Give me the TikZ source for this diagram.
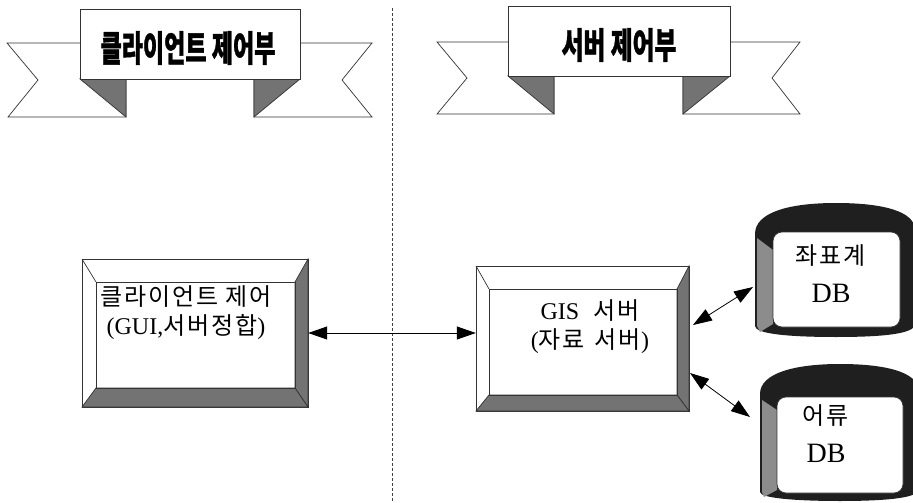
\documentclass[tikz,border=0pt]{standalone}
\usepackage{graphicx}
\usepackage{fontspec}
\setmainfont{Liberation Serif}
\newfontfamily\kr{Noto Sans CJK KR}[BoldFeatures={FakeBold=1.2}]
\newfontfamily\krs{Noto Sans CJK KR}[LetterSpace=8]
\usetikzlibrary{arrows.meta,fit}
\tikzset{
  edge/.style={draw=black!80, line width=0.7pt},
  shade1/.style={fill=black!55},
  ttl/.style={font=\kr\bfseries\fontsize{36}{38}\selectfont, inner sep=0pt},
  body/.style={font=\fontsize{24}{29}\selectfont, align=center, inner sep=0pt},
  dbtxt/.style={font=\fontsize{24}{38}\selectfont, align=center, inner sep=0pt},
  conn/.style={{Triangle[length=19pt,width=13pt]}-{Triangle[length=19pt,width=13pt]}, line width=0.8pt, black},
  bannerbox/.style={edge, fill=white, inner sep=0pt},
  rim/.style={fill=black!88},
}
\begin{document}
\begin{tikzpicture}[x=1pt,y=-1pt]
\useasboundingbox (0,0) rectangle (913,503);
\clip (0,0) rectangle (913,503);
\fill[white] (0,0) rectangle (913,503);

% ---------- divider ----------
\draw[black!75, line width=0.7pt, dash pattern=on 3pt off 2pt] (392,8) -- (392,503);

% ---------- banner 1 ----------
\draw[edge, fill=white] (80,43) -- (7,43) -- (38,80) -- (8,117) -- (126,117) -- (126,79);
\draw[edge, fill=white] (300,43) -- (372,43) -- (342,80) -- (372,117) -- (254,117) -- (254,79);
\draw[edge, shade1] (80,79) -- (126,79) -- (126,117) -- cycle;
\draw[edge, shade1] (254,79) -- (300,79) -- (254,117) -- cycle;
\node[bannerbox, fit={(80,9) (300,79)}] (b1) {};
\node[ttl] (t1) at (188,48) {\scalebox{0.64}[1]{클라이언트 제어부}};

% ---------- banner 2 ----------
\draw[edge, fill=white] (508,42) -- (437,42) -- (467,78) -- (437,114) -- (554,114) -- (554,76);
\draw[edge, fill=white] (730,42) -- (800,42) -- (772,78) -- (800,114) -- (683,114) -- (683,76);
\draw[edge, shade1] (508,76) -- (554,76) -- (554,114) -- cycle;
\draw[edge, shade1] (683,76) -- (730,76) -- (683,114) -- cycle;
\node[bannerbox, fit={(508,6) (730,76)}] (b2) {};
\node[ttl] (t2) at (619,45) {\scalebox{0.66}[1]{서버 제어부}};

% ---------- client box ----------
\node[inner sep=0pt, fit={(82,259) (308,407)}] (client) {};
\draw[edge, fill=white] (82,259) rectangle (308,407);
\draw[edge, shade1] (308,259) -- (308,407) -- (295,388) -- (295,282) -- cycle;
\draw[edge, shade1] (82,407) -- (308,407) -- (295,388) -- (96,388) -- cycle;
\draw[edge] (82,259) -- (96,282);
\draw[edge] (96,282) rectangle (295,388);
\node[body] (ct) at (186,313) {{\krs 클라이언트 제어}\\({GUI},{\krs 서버정합})};

% ---------- GIS box ----------
\node[inner sep=0pt, fit={(476,266) (689,411)}] (gis) {};
\draw[edge, fill=white] (476,266) rectangle (689,411);
\draw[edge, shade1] (689,266) -- (689,411) -- (677,395) -- (677,289) -- cycle;
\draw[edge, shade1] (476,411) -- (689,411) -- (677,395) -- (489,395) -- cycle;
\draw[edge] (476,266) -- (489,289);
\draw[edge] (489,289) rectangle (677,395);
\node[body] (gt) at (590,327) {GIS\hspace{14pt}{\krs 서버}\\({\krs 자료}\hspace{10pt}{\krs 서버})};

% ---------- DB 1 ----------
\node[inner sep=0pt, fit={(755,204) (913,337)}] (db1) {};
\fill[rim] (755,234) .. controls (755,212) and (790,203) .. (836,203) .. controls (882,203) and (915,211) .. (915,230) -- (915,324) .. controls (915,334) and (882,337) .. (836,337) .. controls (790,337) and (755,334) .. (755,326) -- cycle;
\fill[black!45] (757,238) -- (773,250) -- (773,324) -- (760,332) -- (757,326) -- cycle;
\draw[edge, fill=white, rounded corners=9pt] (773,232) rectangle (900,327);
\node[dbtxt] (d1t) at (831,274) {{\krs 좌표계}\\\fontsize{28}{30}\selectfont DB};

% ---------- DB 2 ----------
\node[inner sep=0pt, fit={(760,365) (913,501)}] (db2) {};
\fill[rim] (760,394) .. controls (760,373) and (795,364) .. (840,364) .. controls (885,364) and (918,372) .. (918,390) -- (918,490) .. controls (918,498) and (885,501) .. (840,501) .. controls (795,501) and (760,498) .. (760,492) -- cycle;
\fill[black!45] (762,400) -- (777,410) -- (777,490) -- (764,497) -- (762,492) -- cycle;
\draw[edge, fill=white, rounded corners=9pt] (777,397) rectangle (903,493);
\node[dbtxt] (d2t) at (826,434) {{\krs 어류}\\\fontsize{28}{30}\selectfont DB};

% ---------- connectors ----------
\coordinate (g1) at (693,325);
\coordinate (g2) at (690,373);
\coordinate (e1) at (753,287);
\coordinate (e2) at (750,417);
\draw[conn] (client.east) -- (client.east -| gis.west);
\draw[conn] (g1) -- (e1);
\draw[conn] (g2) -- (e2);
\end{tikzpicture}
\end{document}
